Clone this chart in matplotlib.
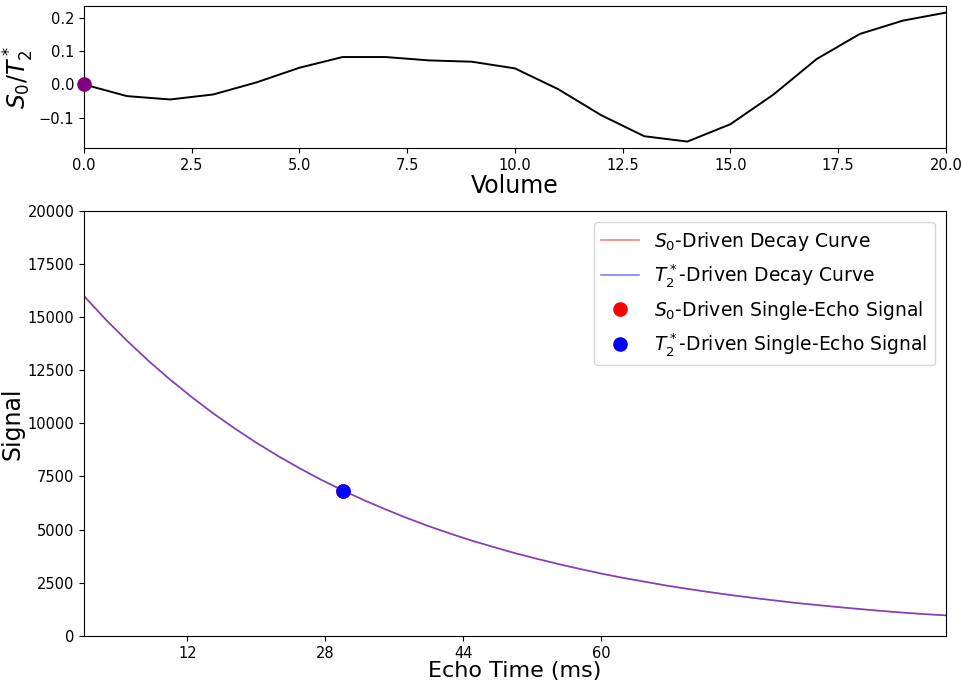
import numpy as np
import matplotlib
matplotlib.use("Agg")
import matplotlib.pyplot as plt

# top panel: S0/T2* fluctuation per volume
volume = np.arange(0, 21)
fluct = [0.0, -0.035, -0.045, -0.030, 0.006, 0.050, 0.082, 0.082, 0.072, 0.068,
         0.048, -0.014, -0.092, -0.155, -0.171, -0.119, -0.030, 0.076, 0.151, 0.191, 0.215]

# bottom panel: decay curves (every 2.5 ms)
echo_time = np.arange(0, 100.1, 2.5)
s0_curve = [16000, 14900, 13890, 12940, 12060, 11240, 10470, 9760, 9090, 8470,
            7890, 7350, 6850, 6380, 5950, 5540, 5160, 4810, 4480, 4180,
            3890, 3630, 3380, 3150, 2930, 2730, 2550, 2370, 2210, 2060,
            1920, 1790, 1670, 1550, 1450, 1350, 1260, 1170, 1090, 1020, 960]
t2s_curve = list(s0_curve)

# single echo point
single_te = 30
single_s0 = 6800
single_t2s = 6800

xticks = [12, 28, 44, 60]
fluct_ticks = [-0.1, 0.0, 0.1, 0.2]

fig = plt.figure(figsize=(9.63, 6.84), dpi=100)
ax1 = fig.add_axes([0.0872, 0.7836, 0.8951, 0.2074])
ax2 = fig.add_axes([0.0872, 0.0705, 0.8951, 0.6210])

ax1.plot(volume, fluct, color='black', lw=1.4)
ax1.plot([0], [0], 'o', color='purple', markersize=9.5, clip_on=False, zorder=5)
ax1.set_xlim(0, 20)
ax1.set_yticks(fluct_ticks)
ax1.set_xlabel('Volume', fontsize=17, labelpad=1)
ax1.set_ylabel(r'$S_0/T_2^*$', fontsize=17, labelpad=2)
ax1.tick_params(labelsize=10.5)

ax2.plot(echo_time, s0_curve, color='red', alpha=0.5, lw=1.2,
         label=r'$S_0$-Driven Decay Curve')
ax2.plot(echo_time, t2s_curve, color='blue', alpha=0.5, lw=1.2,
         label=r'$T_2^*$-Driven Decay Curve')
ax2.plot(single_te, single_s0, 'o', color='red', markersize=9.5,
         label=r'$S_0$-Driven Single-Echo Signal', linestyle='none')
ax2.plot(single_te, single_t2s, 'o', color='blue', markersize=9.5,
         label=r'$T_2^*$-Driven Single-Echo Signal', linestyle='none')
ax2.set_xlim(0, 100)
ax2.set_ylim(0, 20000)
ax2.set_xticks(xticks)
ax2.set_xlabel('Echo Time (ms)', fontsize=16, labelpad=0)
ax2.set_ylabel('Signal', fontsize=17, labelpad=2)
ax2.tick_params(labelsize=10.5)
ax2.legend(loc='upper right', fontsize=13.5, borderaxespad=0.6)

plt.savefig('out.png', dpi=100)
